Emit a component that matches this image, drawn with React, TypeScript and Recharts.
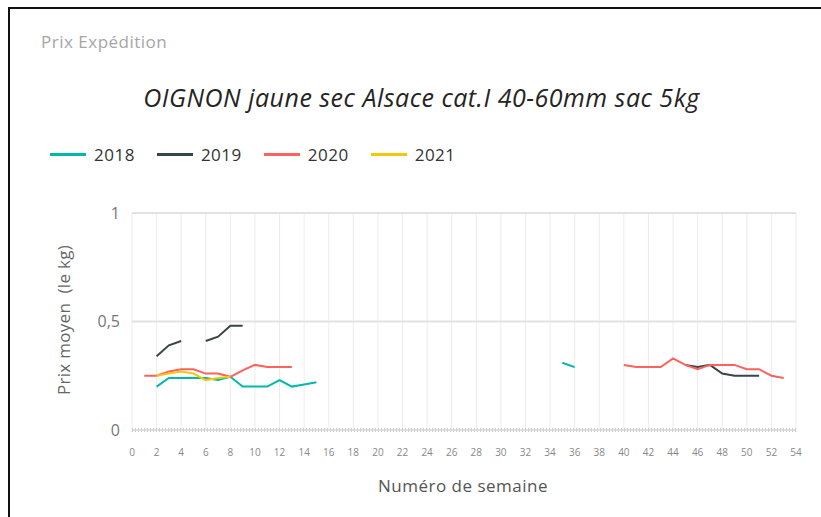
import React from 'react';
import { LineChart, Line, XAxis, YAxis, CartesianGrid } from 'recharts';

// Weekly average price (€/kg) per campaign year
const weeks2018 = [2, 3, 4, 5, 6, 7, 8, 9, 10, 11, 12, 13, 14, 15, 35, 36];
const prices2018 = [0.2, 0.24, 0.24, 0.24, 0.24, 0.23, 0.245, 0.2, 0.2, 0.2, 0.23, 0.2, 0.21, 0.22, 0.31, 0.29];

const weeks2019 = [2, 3, 4, 6, 7, 8, 9, 45, 46, 47, 48, 49, 50, 51];
const prices2019 = [0.34, 0.39, 0.41, 0.41, 0.43, 0.48, 0.48, 0.3, 0.29, 0.3, 0.26, 0.25, 0.25, 0.25];

const weeks2020 = [1, 2, 3, 4, 5, 6, 7, 8, 9, 10, 11, 12, 13, 40, 41, 42, 43, 44, 45, 46, 47, 48, 49, 50, 51, 52, 53];
const prices2020 = [0.25, 0.25, 0.27, 0.28, 0.28, 0.26, 0.26, 0.245, 0.275, 0.3, 0.29, 0.29, 0.29, 0.3, 0.29, 0.29, 0.29, 0.33, 0.3, 0.28, 0.3, 0.3, 0.3, 0.28, 0.28, 0.25, 0.24];

const weeks2021 = [2, 3, 4, 5, 6, 7, 8];
const prices2021 = [0.25, 0.26, 0.27, 0.26, 0.23, 0.24, 0.245];

const xTicks = [0, 2, 4, 6, 8, 10, 12, 14, 16, 18, 20, 22, 24, 26, 28, 30, 32, 34, 36, 38, 40, 42, 44, 46, 48, 50, 52, 54];
const yTicks = [0, 0.5, 1];

const series = [
    { key: 'y2018', name: '2018', color: '#01B8AA', weeks: weeks2018, prices: prices2018 },
    { key: 'y2019', name: '2019', color: '#374649', weeks: weeks2019, prices: prices2019 },
    { key: 'y2020', name: '2020', color: '#FD625E', weeks: weeks2020, prices: prices2020 },
    { key: 'y2021', name: '2021', color: '#F2C80F', weeks: weeks2021, prices: prices2021 },
];

// one row per week on the axis, null where a year has no price (so the line breaks)
const chartData = xTicks.flatMap(t => (t < 54 ? [t, t + 1] : [t])).map(week => {
    const row: any = { week };
    series.forEach(s => {
        const i = s.weeks.indexOf(week);
        row[s.key] = i >= 0 ? s.prices[i] : null;
    });
    return row;
});

const font = '"Open Sans", "Segoe UI", sans-serif';

export default function App() {
    return (
        <div style={{ position: 'absolute', left: 0, top: 0, width: 821, height: 517, background: '#fff', fontFamily: font, overflow: 'hidden' }}>
            <div style={{ position: 'absolute', left: 8, top: 7, width: 813, height: 510, borderTop: '2px solid #111', borderLeft: '2px solid #111' }} />

            <div style={{ position: 'absolute', left: 41, top: 30, fontSize: 17, letterSpacing: 0.5, color: '#a6a6a6' }}>Prix Expédition</div>

            <div style={{ position: 'absolute', left: 0, width: 843, top: 80, textAlign: 'center', fontSize: 25, letterSpacing: 0.5, fontStyle: 'italic', color: '#252423' }}>
                OIGNON jaune sec Alsace cat.I 40-60mm sac 5kg
            </div>

            <div style={{ position: 'absolute', left: 50, top: 143, display: 'flex', fontSize: 17, letterSpacing: 0.5, color: '#333' }}>
                {series.map(s => (
                    <div key={s.key} style={{ display: 'flex', alignItems: 'center', marginRight: 22 }}>
                        <div style={{ width: 36, height: 3, background: s.color, marginRight: 8 }} />
                        <span>{s.name}</span>
                    </div>
                ))}
            </div>

            <div style={{ position: 'absolute', left: 63, top: 320, transform: 'translate(-50%, -50%) rotate(-90deg)', whiteSpace: 'pre', fontSize: 17, letterSpacing: 0.3, color: '#666' }}>
                Prix moyen  (le kg)
            </div>

            <div style={{ position: 'absolute', left: 0, width: 926, top: 474, textAlign: 'center', fontSize: 17, letterSpacing: 0.5, color: '#555' }}>
                Numéro de semaine
            </div>

            <div style={{ position: 'absolute', left: 0, top: 0 }}>
                <LineChart width={821} height={517} data={chartData} margin={{ top: 213, right: 25, left: 0, bottom: 57 }}>
                    <CartesianGrid stroke="#ececec" horizontal={false} />
                    <CartesianGrid stroke="#e2e2e2" strokeWidth={2} vertical={false} />
                    <XAxis
                        dataKey="week"
                        type="number"
                        domain={[0, 54]}
                        ticks={xTicks}
                        interval={0}
                        height={30}
                        tickLine={false}
                        tickSize={0}
                        tickMargin={19}
                        axisLine={{ stroke: '#cfcfcf', strokeWidth: 4, strokeDasharray: '1 2' }}
                        tick={{ fill: '#888', fontSize: 10, fontFamily: font }}
                    />
                    <YAxis
                        type="number"
                        domain={[0, 1]}
                        ticks={yTicks}
                        width={132}
                        axisLine={false}
                        tickLine={false}
                        tickSize={0}
                        tickMargin={12}
                        tick={{ fill: '#777', fontSize: 16, fontFamily: font }}
                        tickFormatter={(v: number) => String(v).replace('.', ',')}
                    />
                    {series.map(s => (
                        <Line
                            key={s.key}
                            dataKey={s.key}
                            name={s.name}
                            stroke={s.color}
                            strokeWidth={2}
                            dot={false}
                            type="linear"
                            connectNulls={false}
                            isAnimationActive={false}
                        />
                    ))}
                </LineChart>
            </div>
        </div>
    );
}
